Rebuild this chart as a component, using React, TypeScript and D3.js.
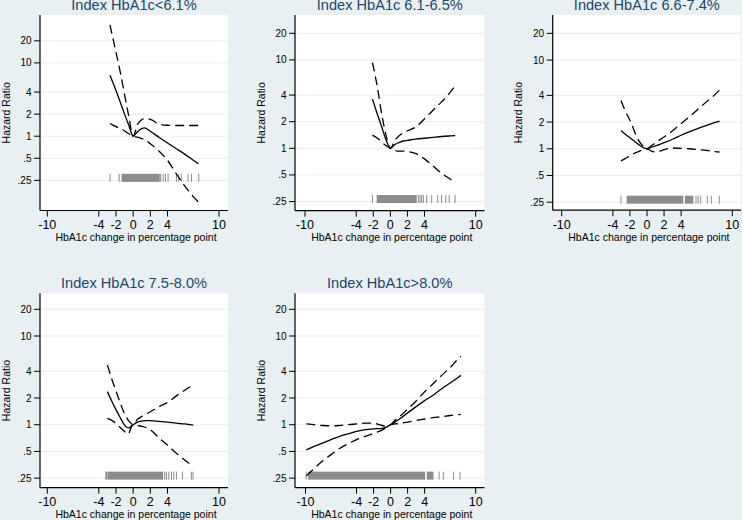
import React, { useEffect } from "react";
import * as d3 from "d3";

// ---------- DATA ----------
const panelTitles = [
  "Index HbA1c<6.1%",
  "Index HbA1c 6.1-6.5%",
  "Index HbA1c 6.6-7.4%",
  "Index HbA1c 7.5-8.0%",
  "Index HbA1c>8.0%",
];

const xTicks = [-10, -4, -2, 0, 2, 4, 10];
const yTicks = [0.25, 0.5, 1, 2, 4, 10, 20];
const yTickLabels = [".25", ".5", "1", "2", "4", "10", "20"];
const rugLevel = 0.25;

// Panel 1: HbA1c < 6.1
const p1X = [-2.7, -2, -1.5, -1, -0.5, 0, 0.5, 1, 1.3, 2, 3, 4, 5, 6, 7, 7.6];
const p1Est = [6.8, 4.2, 2.9, 2.0, 1.4, 1.0, 1.15, 1.27, 1.3, 1.17, 0.97, 0.81, 0.68, 0.57, 0.47, 0.42];
const p1Lo = [1.49, 1.35, 1.27, 1.18, 1.08, 1.0, 0.97, 0.93, 0.9, 0.79, 0.63, 0.47, 0.31, 0.21, 0.15, 0.127];
const p1Hi = [33, 14, 7.5, 3.7, 1.85, 1.0, 1.45, 1.68, 1.74, 1.7, 1.47, 1.41, 1.4, 1.4, 1.4, 1.4];
const p1RugTicks = [-2.7, -1.62, 3.2, 3.5, 3.76, 4.07, 5.04, 5.3, 5.6, 6.4, 6.8, 7.64];
const p1RugBlocks = [[-1.35, 3.1]];

// Panel 2: HbA1c 6.1-6.5
const p2X = [-2.1, -1.5, -1, -0.5, 0, 0.5, 1, 1.5, 2, 3, 4, 5, 6, 7, 7.6];
const p2Est = [3.6, 2.4, 1.73, 1.24, 1.0, 1.1, 1.16, 1.21, 1.23, 1.27, 1.3, 1.33, 1.36, 1.38, 1.39];
const p2Lo = [1.41, 1.3, 1.17, 1.07, 1.0, 0.95, 0.93, 0.93, 0.92, 0.87, 0.76, 0.63, 0.52, 0.45, 0.41];
const p2Hi = [9.3, 4.8, 2.4, 1.4, 1.0, 1.22, 1.38, 1.5, 1.58, 1.75, 2.15, 2.7, 3.35, 4.3, 5.1];
const p2RugTicks = [-2.1, 3.28, 3.48, 3.67, 3.87, 4.26, 4.84, 5.55, 6.0, 6.5, 6.9, 7.58];
const p2RugBlocks = [[-1.6, 3.09]];

// Panel 3: HbA1c 6.6-7.4
const p3X = [-3.05, -2.5, -2, -1.5, -1, -0.5, 0, 0.5, 1, 1.5, 2, 3, 4, 5, 6, 7, 8, 8.5];
const p3Est = [1.6, 1.45, 1.33, 1.22, 1.12, 1.04, 1.0, 1.04, 1.08, 1.12, 1.17, 1.28, 1.42, 1.56, 1.7, 1.84, 1.98, 2.05];
const p3Lo = [0.73, 0.78, 0.83, 0.89, 0.93, 0.97, 1.0, 0.94, 0.92, 0.94, 0.98, 1.02, 1.01, 1.0, 0.98, 0.96, 0.93, 0.92];
const p3Hi = [3.5, 2.6, 2.1, 1.6, 1.25, 1.08, 1.0, 1.08, 1.17, 1.26, 1.36, 1.6, 1.92, 2.3, 2.8, 3.4, 4.1, 4.6];
const p3RugTicks = [-3.05, 5.74, 6.0, 6.3, 7.07, 7.54, 8.48];
const p3RugBlocks = [[-2.38, 4.26], [4.45, 5.43]];

// Panel 4: HbA1c 7.5-8.0
const p4X = [-3, -2.5, -2, -1.5, -1, -0.7, -0.5, -0.3, 0, 0.5, 1, 1.5, 2, 3, 4, 5, 6, 7];
const p4Est = [2.36, 1.85, 1.48, 1.2, 0.99, 0.93, 0.92, 0.95, 1.0, 1.07, 1.1, 1.11, 1.11, 1.09, 1.07, 1.04, 1.02, 0.99];
const p4Lo = [1.18, 1.12, 1.04, 0.93, 0.84, 0.78, 0.8, 0.9, 1.0, 0.98, 0.96, 0.93, 0.88, 0.71, 0.59, 0.48, 0.4, 0.34];
const p4Hi = [4.7, 3.3, 2.4, 1.75, 1.33, 1.18, 1.1, 1.05, 1.0, 1.15, 1.24, 1.32, 1.4, 1.6, 1.78, 2.1, 2.45, 2.8];
const p4RugTicks = [-3.18, -3.1, 3.68, 3.88, 4.15, 4.46, 4.73, 5.04, 5.74, 6.78, 6.98];
const p4RugBlocks = [[-3.0, 3.49]];

// Panel 5: HbA1c > 8.0
const p5X = [-9.9, -9, -8, -7, -6, -5, -4, -3, -2, -1, -0.5, 0, 0.5, 1, 2, 3, 4, 5, 6, 7, 8, 8.25];
const p5Est = [0.52, 0.57, 0.62, 0.68, 0.74, 0.79, 0.84, 0.88, 0.9, 0.91, 0.94, 1.0, 1.07, 1.15, 1.36, 1.6, 1.87, 2.15, 2.55, 2.95, 3.45, 3.6];
const p5Lo = [0.265, 0.32, 0.39, 0.46, 0.54, 0.61, 0.68, 0.74, 0.8, 0.87, 0.93, 1.0, 1.02, 1.03, 1.07, 1.12, 1.16, 1.2, 1.23, 1.27, 1.3, 1.31];
const p5Hi = [1.02, 1.0, 0.98, 0.97, 0.98, 1.0, 1.02, 1.04, 1.04, 0.98, 0.97, 1.0, 1.12, 1.22, 1.5, 1.85, 2.35, 2.9, 3.6, 4.4, 5.6, 5.9];
const p5RugTicks = [-9.92, 5.7, 6.2, 7.4, 8.16];
const p5RugBlocks = [[-9.69, 4.06], [4.26, 5.04]];

const panelData = [
  { x: p1X, est: p1Est, lo: p1Lo, hi: p1Hi, rugTicks: p1RugTicks, rugBlocks: p1RugBlocks },
  { x: p2X, est: p2Est, lo: p2Lo, hi: p2Hi, rugTicks: p2RugTicks, rugBlocks: p2RugBlocks },
  { x: p3X, est: p3Est, lo: p3Lo, hi: p3Hi, rugTicks: p3RugTicks, rugBlocks: p3RugBlocks },
  { x: p4X, est: p4Est, lo: p4Lo, hi: p4Hi, rugTicks: p4RugTicks, rugBlocks: p4RugBlocks },
  { x: p5X, est: p5Est, lo: p5Lo, hi: p5Hi, rugTicks: p5RugTicks, rugBlocks: p5RugBlocks },
];

// ---------- LAYOUT ----------
const layouts = [
  { left: 40, right: 228, top: 15, bottom: 210.5, xr: [47.3, 219], yd: [0.097, 45] },
  { left: 295, right: 484.5, top: 15, bottom: 210.7, xr: [305, 475.7], yd: [0.197, 32.2] },
  { left: 552.7, right: 741, top: 15, bottom: 210.2, xr: [561.7, 732.3], yd: [0.203, 32.2] },
  { left: 40, right: 228, top: 293.3, bottom: 487.7, xr: [47.3, 219], yd: [0.195, 30.3] },
  { left: 295, right: 484.5, top: 293.3, bottom: 487.7, xr: [305.5, 475.7], yd: [0.195, 30.3] },
];

const BG = "#e9f0f3";
const GRID = "#e6eef1";
const TITLE = "#1a476f";
const RUG = "#8c8c8c";
const FONT = "'Liberation Sans', Arial, Helvetica, sans-serif";

function Panel({ idx }: { idx: number }) {
  const L = layouts[idx];
  const D = panelData[idx];
  const x = d3.scaleLinear().domain([-10, 10]).range(L.xr);
  const y = d3.scaleLog().domain(L.yd).range([L.bottom, L.top]);
  const line = d3
    .line<[number, number]>()
    .x((d) => x(d[0]))
    .y((d) => y(d[1]))
    .curve(d3.curveMonotoneX);
  const ser = (vals: number[]) => line(D.x.map((xv, i) => [xv, vals[i]] as [number, number])) || "";
  const midX = (L.left + L.right) / 2;
  const midY = (L.top + L.bottom) / 2;
  const ry = y(rugLevel);
  return (
    <g>
      <rect x={L.left} y={L.top} width={L.right - L.left} height={L.bottom - L.top} fill="#ffffff" />
      {yTicks.map((t) => (
        <line key={"g" + t} x1={L.left} x2={L.right} y1={y(t)} y2={y(t)} stroke={GRID} strokeWidth={1} />
      ))}
      {/* rug */}
      {D.rugBlocks.map((b, i) => (
        <rect key={"rb" + i} x={x(b[0])} y={ry - 6.5} width={x(b[1]) - x(b[0])} height={8} fill={RUG} />
      ))}
      {D.rugTicks.map((t, i) => (
        <line key={"rt" + i} x1={x(t)} x2={x(t)} y1={ry - 6.5} y2={ry + 1.5} stroke={RUG} strokeWidth={1} />
      ))}
      {/* curves */}
      <path d={ser(D.hi)} fill="none" stroke="#000" strokeWidth={1.3} strokeDasharray="9,5" />
      <path d={ser(D.lo)} fill="none" stroke="#000" strokeWidth={1.3} strokeDasharray="9,5" />
      <path d={ser(D.est)} fill="none" stroke="#000" strokeWidth={1.3} />
      {/* axes */}
      <line x1={L.left} x2={L.left} y1={L.top} y2={L.bottom} stroke="#000" strokeWidth={1.2} />
      <line x1={L.left} x2={L.right} y1={L.bottom} y2={L.bottom} stroke="#000" strokeWidth={1.2} />
      {yTicks.map((t, i) => (
        <g key={"yt" + t}>
          <line x1={L.left - 6} x2={L.left} y1={y(t)} y2={y(t)} stroke="#000" strokeWidth={1} />
          <text x={L.left - 8.5} y={y(t)} dy="0.35em" textAnchor="end" fontSize={10} fontFamily={FONT} fill="#000">
            {yTickLabels[i]}
          </text>
        </g>
      ))}
      {xTicks.map((t) => (
        <g key={"xt" + t}>
          <line x1={x(t)} x2={x(t)} y1={L.bottom} y2={L.bottom + 6} stroke="#000" strokeWidth={1} />
          <text x={x(t)} y={L.bottom + 18.5} textAnchor="middle" fontSize={12.5} fontFamily={FONT} fill="#000">
            {String(t)}
          </text>
        </g>
      ))}
      <text x={midX + 2} y={L.bottom + 30.5} textAnchor="middle" fontSize={10.5} fontFamily={FONT} fill="#000">
        HbA1c change in percentage point
      </text>
      <text
        transform={`translate(${L.left - 34},${midY}) rotate(-90)`}
        textAnchor="middle"
        dy="0.35em"
        fontSize={10.5}
        fontFamily={FONT}
        fill="#000"
      >
        Hazard Ratio
      </text>
      <text x={midX} y={L.top - 5.3} textAnchor="middle" fontSize={14.6} fontFamily={FONT} fill={TITLE}>
        {panelTitles[idx]}
      </text>
    </g>
  );
}

export default function App() {
  useEffect(() => {
    document.body.style.margin = "0";
  }, []);
  return (
    <div style={{ position: "absolute", left: 0, top: 0 }}>
      <svg width={742} height={520} style={{ display: "block" }}>
        <rect x={0} y={0} width={742} height={520} fill={BG} />
        {panelData.map((_, i) => (
          <Panel key={i} idx={i} />
        ))}
      </svg>
    </div>
  );
}
